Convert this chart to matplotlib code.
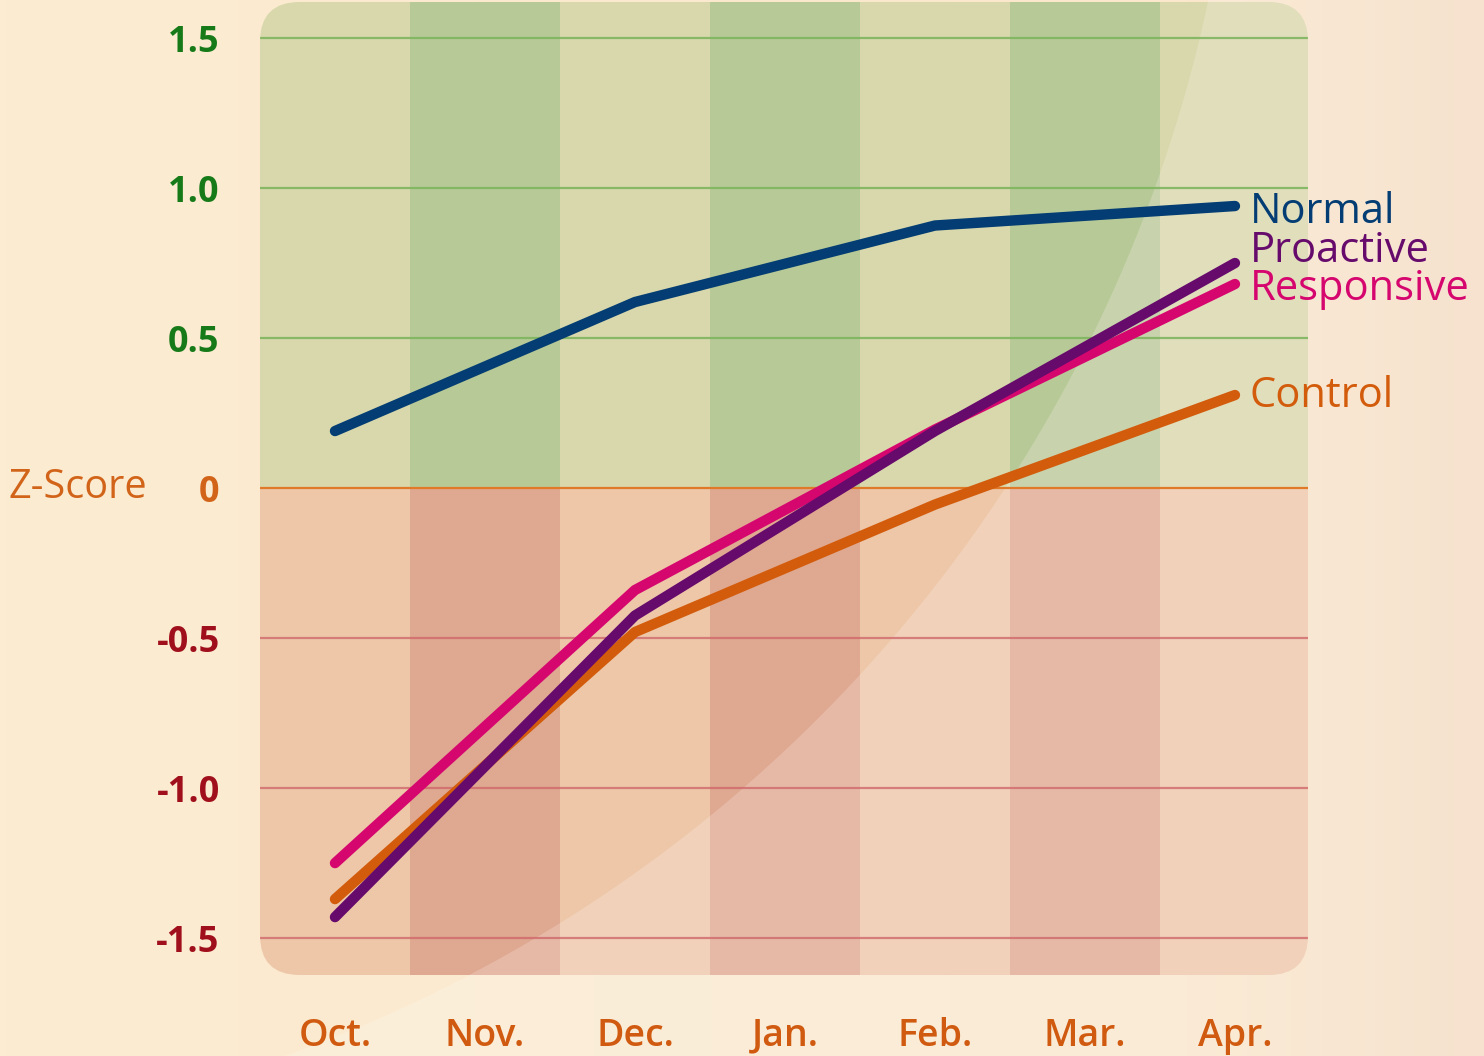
import numpy as np
import matplotlib
matplotlib.use("Agg")
import matplotlib.pyplot as plt
from matplotlib.patches import FancyBboxPatch, Rectangle, Polygon

# ---------------- data ----------------
months = ["Oct.", "Nov.", "Dec.", "Jan.", "Feb.", "Mar.", "Apr."]
measure_months = ["Oct.", "Dec.", "Feb.", "Apr."]
normal = [0.19, 0.62, 0.875, 0.94]
proactive = [-1.43, -0.425, 0.19, 0.75]
responsive = [-1.25, -0.34, 0.195, 0.68]
control = [-1.37, -0.48, -0.055, 0.31]
y_ticks = [1.5, 1.0, 0.5, 0, -0.5, -1.0, -1.5]
y_tick_labels = ["1.5", "1.0", "0.5", "0", "-0.5", "-1.0", "-1.5"]
series_names = ["Control", "Responsive", "Proactive", "Normal"]

# ---------------- styles ----------------
W, H = 1484, 1056
col = {"Normal": "#033d73", "Proactive": "#660a6c", "Responsive": "#d6066f", "Control": "#d35c0c"}
label_nudge = {"Normal": -0.057, "Proactive": 0.003, "Responsive": -0.053, "Control": -0.04}
green_light, green_dark = "#d8d8ac", "#b7c997"
red_light, red_dark = "#edc7a8", "#dfa890"
sans = ["Open Sans", "DejaVu Sans"]

fig = plt.figure(figsize=(W / 100, H / 100), dpi=100)

# background gradient
bg = fig.add_axes([0, 0, 1, 1])
bg.set_xlim(0, W)
bg.set_ylim(H, 0)
bg.axis("off")
xs = np.linspace(0, 1, 300)
c_left = np.array([252, 236, 209]) / 255
c_mid = np.array([250, 231, 204]) / 255
c_right = np.array([245, 220, 195]) / 255
grad = np.where(xs[:, None] < 0.8,
                c_left + (c_mid - c_left) * (xs[:, None] / 0.8),
                c_mid + (c_right - c_mid) * ((xs[:, None] - 0.8) / 0.2))
img = np.repeat(grad[None, :, :], 10, axis=0)
bg.imshow(img, extent=(0, W, H, 0), aspect="auto", zorder=0)

# large soft arc (lighter area to the lower right)
cx, cy, r = -200, -300, 1440
t = np.radians(np.linspace(82, -2, 200))
arc = np.column_stack([cx + r * np.cos(t), cy + r * np.sin(t)])
poly_pts = np.vstack([arc, [[1700, -400], [1700, 1300], [arc[0, 0], 1300]]])
bg.add_patch(Polygon(poly_pts, closed=True, facecolor="white", alpha=0.2,
                     edgecolor="none", transform=bg.transData, zorder=1))

# main axes
ax = fig.add_axes([260 / W, 81 / H, 1048 / W, 973 / H])
ax.patch.set_visible(False)
ax.set_xlim(-0.5, 6.487)
ax.set_ylim(-1.623, 1.62)
for s in ax.spines.values():
    s.set_visible(False)

clip = FancyBboxPatch((0, 0), 1, 1, boxstyle="round,pad=0,rounding_size=0.038",
                      mutation_aspect=1048 / 973, transform=ax.transAxes,
                      facecolor="none", edgecolor="none")
ax.add_patch(clip)

for i in range(len(months)):
    dark = (i % 2 == 1)
    p1 = Rectangle((i - 0.5, 0), 1, 3, facecolor=green_dark if dark else green_light,
                   edgecolor="none", zorder=1)
    p2 = Rectangle((i - 0.5, -3), 1, 3, facecolor=red_dark if dark else red_light,
                   edgecolor="none", zorder=1)
    for p in (p1, p2):
        ax.add_patch(p)
        p.set_clip_path(clip)

ov = Polygon(poly_pts, closed=True, facecolor="#fff2f0", alpha=0.24, edgecolor="none",
             transform=bg.transData, zorder=2)
ax.add_patch(ov)
ov.set_clip_path(clip)

for yv in y_ticks:
    if yv > 0:
        c, a = "#7fb55f", 0.9
    elif yv == 0:
        c, a = "#e07a28", 1.0
    else:
        c, a = "#d0686c", 0.8
    ln = ax.axhline(yv, color=c, lw=1.6, alpha=a, zorder=3)
    ln.set_clip_path(clip)

xpos = [months.index(m) for m in measure_months]
data = {"Normal": normal, "Proactive": proactive, "Responsive": responsive, "Control": control}
for k, name in enumerate(series_names):
    ax.plot(xpos, data[name], color=col[name], lw=7.5, solid_capstyle="round",
            solid_joinstyle="round", zorder=5 + k)
    ax.text(xpos[-1] + 0.1, data[name][-1] + label_nudge[name], name, color=col[name],
            fontsize=30, family=sans, ha="left", va="baseline", clip_on=False, zorder=10)

# ticks
ax.set_yticks(y_ticks)
ax.set_yticklabels(y_tick_labels, family=sans, fontsize=26, fontweight="bold")
for lab, yv in zip(ax.get_yticklabels(), y_ticks):
    lab.set_color("#177a18" if yv > 0 else ("#d2641a" if yv == 0 else "#a00f1c"))
ax.set_xticks(range(len(months)))
ax.set_xticklabels(months, family=sans, fontsize=27, fontweight="semibold", color="#d05a10")
ax.tick_params(axis="y", length=0, pad=29)
ax.tick_params(axis="x", length=0, pad=30)

fig.text(147 / W, 1 - 488 / H, "Z-Score", color="#d2641a", fontsize=28.5, family=sans,
         fontweight="medium", ha="right", va="center")

fig.savefig("out.png", dpi=100)
